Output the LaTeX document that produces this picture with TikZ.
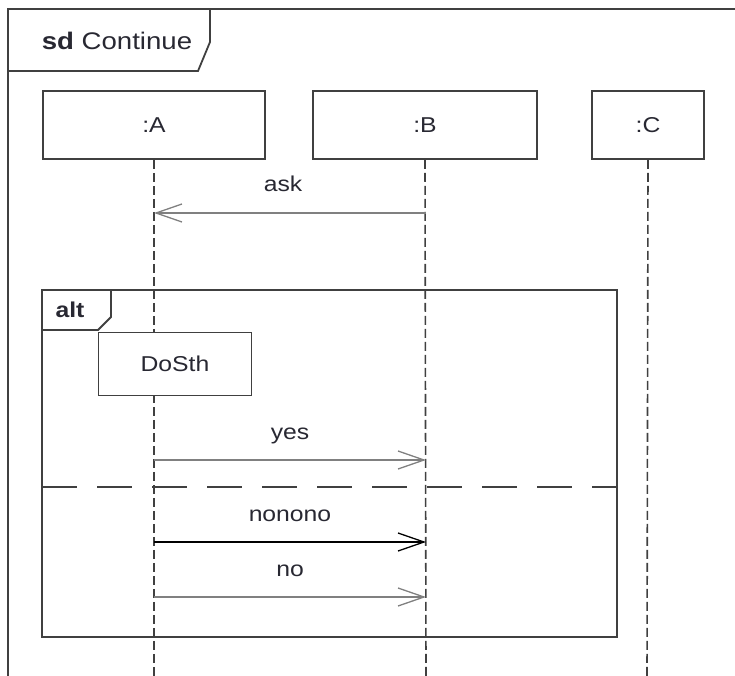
\documentclass[tikz,border=0pt]{standalone}
\usepackage{fontspec}
\setmainfont{Liberation Sans}[FakeStretch=1.15]
\usepackage{tikz}
\usetikzlibrary{calc,positioning,arrows.meta}
\usepackage{xcolor}
\definecolor{framegray}{RGB}{64,64,64}
\definecolor{msggray}{RGB}{128,128,128}
\definecolor{txtgray}{RGB}{40,40,50}

\begin{document}
\begin{tikzpicture}[x=1pt,y=-1pt,
    font=\fontsize{21.5}{24}\selectfont, text=txtgray,
    lifebox/.style={draw=framegray, line width=1.8pt, fill=white, minimum height=68pt, inner sep=0pt},
    lifeline/.style={draw=framegray, line width=1.6pt, dash pattern=on 9pt off 4pt},
    msg/.style={line width=1.5pt, -{Straight Barb[length=26pt,width=18pt,line width=1.3pt]}},
    msglbl/.style={midway, anchor=base, yshift=21pt, text=txtgray},
    frameline/.style={draw=framegray, line width=1.8pt}]
  \useasboundingbox (0,0) rectangle (735,676);

  % Outer sd frame
  \draw[frameline] (8,676) -- (8,9) -- (735,9);
  \draw[frameline] (8,71) -- (198,71) -- (210,42) -- (210,9);
  \node[font=\fontsize{24}{26}\selectfont] (sdlbl) at (117,41) {\textbf{sd} Continue};

  % Lifeline heads
  \node[lifebox, minimum width=222pt] (A) at (154,125) {:A};
  \node[lifebox, minimum width=224pt] (B) at (425,125) {:B};
  \node[lifebox, minimum width=112pt] (C) at (648,125) {:C};

  % Lifelines
  \coordinate (Aend) at (154,676);
  \coordinate (Bend) at (426,676);
  \coordinate (Cend) at (647,676);
  \draw[lifeline] (A.south) -- (Aend);
  \draw[lifeline] (B.south) -- (Bend);
  \draw[lifeline] (C.south) -- (Cend);

  % ask
  \coordinate (askB) at (426,213);
  \coordinate (askA) at (154,213);
  \draw[msg, msggray] (askB) -- (askA) node[msglbl, xshift=-7pt]{ask};

  % alt fragment
  \draw[frameline] (42,290) rectangle (617,637);
  \draw[frameline] (42,330) -- (98,330) -- (111,317) -- (111,290);
  \node (altlbl) at (70,310) {\textbf{alt}};
  \node[lifebox, minimum width=153pt, minimum height=63pt] (dosth) at (175,364) {DoSth};

  % yes
  \coordinate (yesA) at (154,460);
  \coordinate (yesB) at (426,460);
  \draw[msg, msggray] (yesA) -- (yesB) node[msglbl]{yes};

  % operand separator
  \coordinate (sepL) at (42,487);
  \coordinate (sepR) at (617,487);
  \draw[framegray, line width=1.8pt, dash pattern=on 35pt off 20pt] (sepL) -- (sepR);

  % nonono
  \coordinate (nnA) at (154,542);
  \coordinate (nnB) at (426,542);
  \draw[msg, black] (nnA) -- (nnB) node[msglbl]{nonono};

  % no
  \coordinate (noA) at (154,597);
  \coordinate (noB) at (426,597);
  \draw[msg, msggray] (noA) -- (noB) node[msglbl]{no};
\end{tikzpicture}
\end{document}
